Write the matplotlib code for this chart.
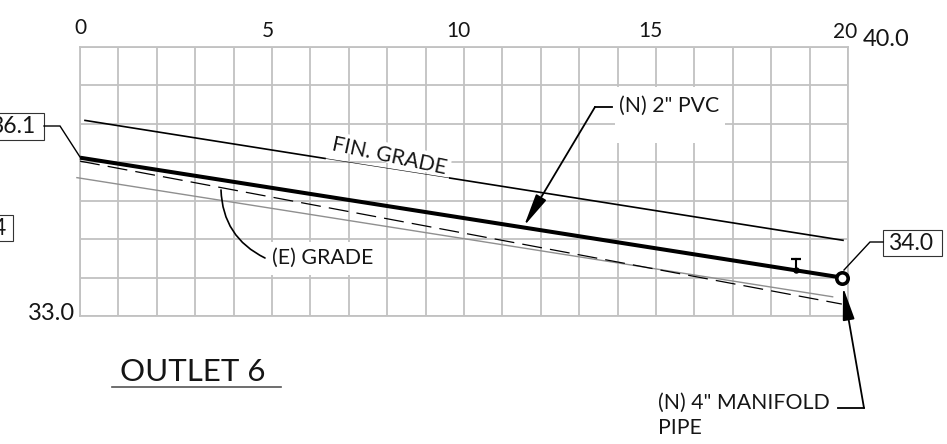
import matplotlib.pyplot as plt
from matplotlib.patches import Polygon, Rectangle
from matplotlib.transforms import Affine2D

plt.rcParams['font.family'] = ['Lato', 'DejaVu Sans']

# station (x) / elevation (y)
pipe_x = [0, 19.84]
pipe_y = [37.12, 34.0]
fin_left_x = [0.13, 6.38]
fin_left_y = [38.09, 37.10]
fin_mid_x = [6.38, 9.63]
fin_mid_y = [37.10, 36.59]
fin_right_x = [9.63, 19.87]
fin_right_y = [36.59, 34.97]
exist_x = [0, 19.84]
exist_y = [37.03, 33.31]
gray_x = [-0.08, 19.6]
gray_y = [36.6, 33.5]
valve_x = [18.65, 18.65]
valve_y = [34.19, 34.48]

x_ticks = list(range(0, 21))
y_ticks = list(range(33, 41))
station_labels = ['0', '5', '10', '15', '20']

GRID = '#c2c2c2'

fig = plt.figure(figsize=(9.47, 4.44), dpi=100)
ax = fig.add_axes([80 / 947, (444 - 316) / 444, 768 / 947, 269 / 444])
ax.set_xlim(0, 20)
ax.set_ylim(33, 40)
ax.set_xticks(x_ticks)
ax.set_yticks(y_ticks)
ax.tick_params(length=0, labelbottom=False, labelleft=False)
ax.grid(True, color=GRID, lw=1.3)
ax.set_axisbelow(True)
for s in ax.spines.values():
    s.set_color(GRID)
    s.set_linewidth(1.3)

# everything that is only annotation gets placed in image pixels
px = Affine2D().scale(1, -1).translate(0, 444)


def mask(corners):
    ax.add_patch(Polygon(corners, transform=px, fc='white', ec='none', zorder=2, clip_on=False))


def leader(xs, ys, lw=1.0, color='black'):
    ax.plot(xs, ys, transform=px, color=color, lw=lw, clip_on=False, zorder=6,
            solid_joinstyle='miter')


def label(x, y, s, size=15.3, ha='left', **kw):
    ax.text(x, y, s, transform=px, fontsize=size, ha=ha, va='center', color='#151515',
            clip_on=False, zorder=7, **kw)


def boxed(x0, y0, x1, y1, s, tx):
    ax.add_patch(Rectangle((x0, y0), x1 - x0, y1 - y0, transform=px, fc='white', ec='#333333',
                           lw=0.8, clip_on=False, zorder=6))
    label(tx, (y0 + y1) / 2, s, size=16.5)


def arrow(tip, start):
    ax.annotate('', xy=tip, xytext=start, xycoords=px, textcoords=px, zorder=6,
                arrowprops=dict(arrowstyle='-|>,head_width=0.36,head_length=2.0', color='black',
                                lw=1.3, shrinkA=0, shrinkB=0))


mask([(615, 87), (725, 87), (725, 143), (615, 143)])
mask([(265, 242), (381, 242), (381, 275), (265, 275)])
mask([(328, 130), (452, 156), (450, 178), (326, 148)])

ax.plot(fin_left_x, fin_left_y, color='black', lw=1.2, clip_on=False, zorder=3)
ax.plot(fin_mid_x, fin_mid_y, color='black', lw=0.4, zorder=3)
ax.plot(fin_right_x, fin_right_y, color='black', lw=1.2, clip_on=False, zorder=3)
ax.plot(gray_x, gray_y, color='#8f8f8f', lw=1.0, clip_on=False, zorder=3)
ax.plot(exist_x, exist_y, color='black', lw=0.9, dashes=(16, 6.5), clip_on=False, zorder=3)
ax.plot(pipe_x, pipe_y, color='black', lw=2.9, clip_on=False, zorder=4, solid_capstyle='butt')
ax.plot(valve_x, valve_y, color='black', lw=1.5, zorder=4)
ax.plot(valve_x[1], valve_y[1], marker='_', ms=6.5, mew=1.6, color='black', zorder=4)
ax.plot(valve_x[0], valve_y[0], marker='o', ms=3.6, color='black', zorder=4)
ax.plot(pipe_x[1], pipe_y[1], marker='o', ms=8.2, mew=2.6, mec='black', mfc='white', zorder=5,
        clip_on=False)

# station numbers along the top, slightly staggered like the drawing
for lx, ly, s in zip([80, 268, 458, 650, 845], [28, 31, 31, 31, 32], station_labels):
    label(lx, ly, s, size=15, ha='center')
label(863, 39, '40.0', size=17)
label(28, 313, '33.0', size=17)

boxed(-20, 113, 44, 140, '36.1', -10)
boxed(-30, 215, 13, 241, '4', -7)
boxed(883, 230, 942, 256, '34.0', 888)
leader([44, 60, 80], [126, 126, 157])
leader([883, 870, 844], [242, 242, 270])

# (E) grade callout
ax.annotate('', xy=(221, 190), xytext=(265, 258), xycoords=px, textcoords=px, zorder=6,
            arrowprops=dict(arrowstyle='-', color='black', lw=1.2, shrinkA=0, shrinkB=0,
                            connectionstyle='arc3,rad=-0.3'))
label(272, 258, '(E) GRADE')

label(619, 106, '(N) 2" PVC')
leader([612, 595], [107, 107], lw=1.3)
arrow((524, 226), (595, 107))

label(389, 156, 'FIN. GRADE', ha='center', rotation=-12, rotation_mode='anchor')

label(658, 403, '(N) 4" MANIFOLD')
label(658, 428, 'PIPE')
leader([838, 864], [408, 408], lw=1.3)
arrow((843, 287), (864, 408))

label(120, 372, 'OUTLET 6', size=22.5)
leader([112, 281], [387, 387], lw=1.2, color='#555555')

fig.savefig('out.png', dpi=100)
